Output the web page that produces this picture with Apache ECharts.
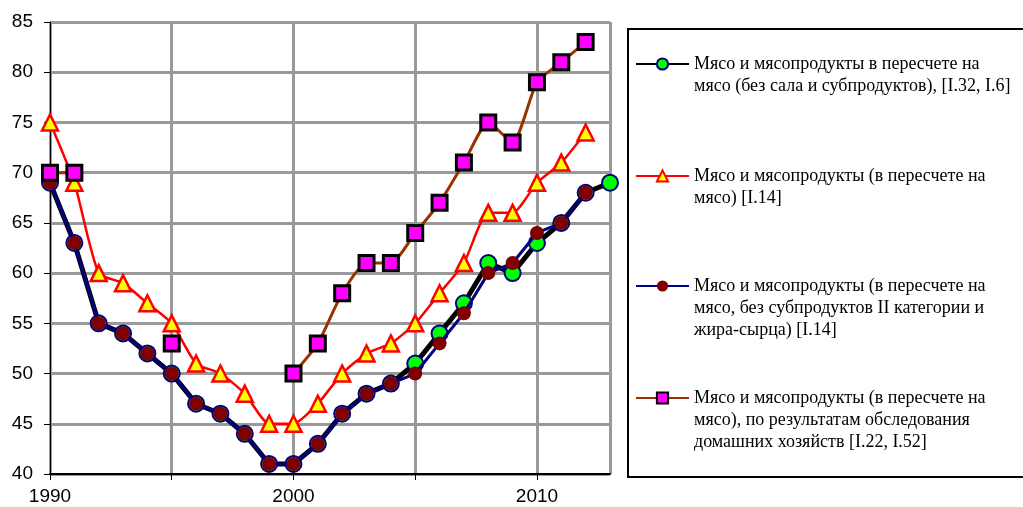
<!DOCTYPE html>
<html><head><meta charset="utf-8">
<script src="https://cdn.jsdelivr.net/npm/echarts@6/dist/echarts.min.js"></script>
<style>html,body{margin:0;padding:0;background:#fff}#c{width:1023px;height:507px}</style>
</head><body><div id="c"></div>
<script>
var years = [1990,1991,1992,1993,1994,1995,1996,1997,1998,1999,2000,2001,2002,2003,2004,2005,2006,2007,2008,2009,2010,2011,2012,2013];
var s1 = [69,63,55,54,52,50,47,46,44,41,41,43,46,48,49,51,54,57,61,60,63,65,68,69];
var s2 = [75,69,60,59,57,55,51,50,48,45,45,47,50,52,53,55,58,61,66,66,69,71,74,null];
var s3 = [69,63,55,54,52,50,47,46,44,41,41,43,46,48,49,50,53,56,60,61,64,65,68,null];
var s4 = [70,70,null,null,null,53,null,null,null,null,50,53,58,61,61,64,67,71,75,73,79,81,83,null];
var names = [
 "Мясо и мясопродукты в пересчете на мясо (без сала и субпродуктов), [I.32, I.6]",
 "Мясо и мясопродукты (в пересчете на мясо) [I.14]",
 "Мясо и мясопродукты (в пересчете на мясо, без субпродуктов II категории и жира-сырца) [I.14]",
 "Мясо и мясопродукты (в пересчете на мясо), по результатам обследования домашних хозяйств [I.22, I.52]"
];
var legendLabels = [
 "Мясо и мясопродукты в пересчете на\nмясо (без сала и субпродуктов), [I.32, I.6]",
 "Мясо и мясопродукты (в пересчете на\nмясо) [I.14]",
 "Мясо и мясопродукты (в пересчете на\nмясо, без субпродуктов II категории и\nжира-сырца) [I.14]",
 "Мясо и мясопродукты (в пересчете на\nмясо), по результатам обследования\nдомашних хозяйств [I.22, I.52]"
];
var xTickLabels = {1990:'1990',2000:'2000',2010:'2010'};

function pairs(arr){ return years.map(function(y,i){ return [y, arr[i]]; }); }

var LH = 22;
var iconCenters = [64, 176, 286, 398];
var legends = legendLabels.map(function(lbl, i){
  var n = lbl.split('\n').length;
  var H = (2*n-1)*LH;
  var txt = new Array(n).join('\n') + lbl;
  return {
    data:[names[i]], left: 635, top: iconCenters[i] - H/2, padding: 0,
    itemWidth: 53, itemHeight: 14, itemGap: 0, selectedMode: false,
    formatter: function(){ return txt; },
    textStyle: {fontFamily:'Liberation Serif', fontSize:18, color:'#000', lineHeight: LH}
  };
});

var chart = echarts.init(document.getElementById('c'));
chart.setOption({
  animation:false,
  backgroundColor:'#fff',
  grid:{left:50, right:413, top:22, bottom:33},
  legend: legends,
  graphic:[{type:'rect', shape:{x:628, y:29, width:420, height:448}, style:{fill:'none', stroke:'#000', lineWidth:2}, z:-1}],
  xAxis:{type:'value', min:1990, max:2013, interval:5,
    axisLine:{lineStyle:{color:'#000', width:2}},
    axisTick:{show:true, length:6, lineStyle:{color:'#000', width:1}},
    axisLabel:{fontFamily:'Liberation Sans', fontSize:19, color:'#000', margin:13, showMaxLabel:false,
      formatter:function(v){ return xTickLabels[v] || ''; }},
    splitLine:{show:true, lineStyle:{color:'#999', width:3}}
  },
  yAxis:{type:'value', min:40, max:85, interval:5,
    axisLine:{show:true, lineStyle:{color:'#000', width:1}},
    axisTick:{show:true, length:6, lineStyle:{color:'#000'}},
    axisLabel:{fontFamily:'Liberation Sans', fontSize:19, color:'#000', margin:17},
    splitLine:{show:true, lineStyle:{color:'#999', width:3}}
  },
  series:[
    {name:names[0], type:'line', data:pairs(s1), z:2, symbol:'circle', symbolSize:16,
      lineStyle:{color:'#000', width:5}, itemStyle:{color:'#00ff00', borderColor:'#000080', borderWidth:2}},
    {name:names[2], type:'line', data:pairs(s3), z:3, symbol:'circle', symbolSize:14,
      lineStyle:{color:'#000080', width:3}, itemStyle:{color:'#800000', borderColor:'#800000', borderWidth:0}},
    {name:names[1], type:'line', data:pairs(s2), z:4, symbol:'triangle', symbolSize:16, smooth:0.2,
      lineStyle:{color:'#ff0000', width:2.5}, itemStyle:{color:'#ffff00', borderColor:'#ff0000', borderWidth:2.5}},
    {name:names[3], type:'line', data:pairs(s4), z:5, symbol:'rect', symbolSize:15, smooth:0.2, connectNulls:false,
      lineStyle:{color:'#993300', width:3}, itemStyle:{color:'#ff00ff', borderColor:'#000', borderWidth:3}}
  ]
});
</script></body></html>
